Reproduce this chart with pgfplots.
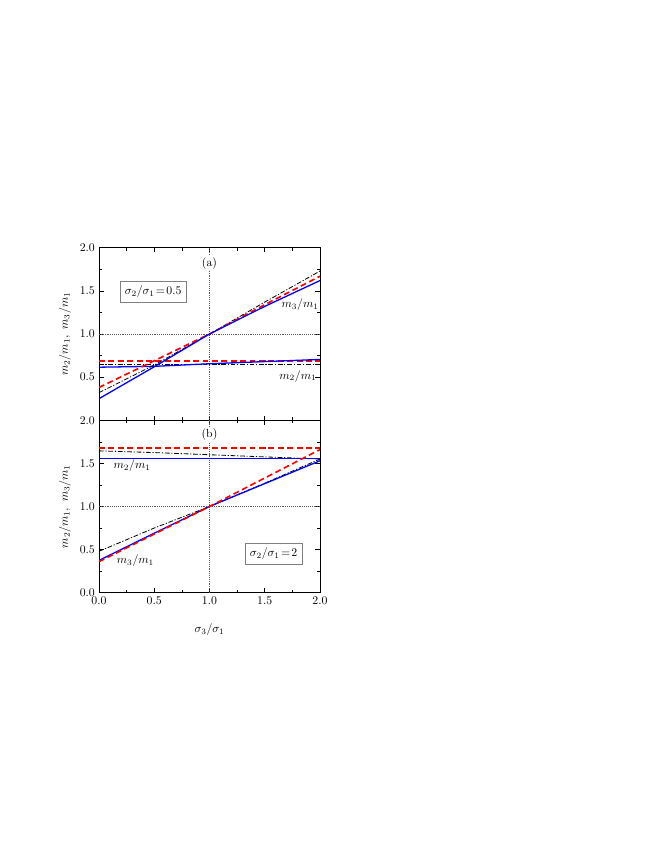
\documentclass[border=0pt]{standalone}
\usepackage{pgfplots}
\pgfplotsset{compat=1.18}
\begin{document}
\begin{tikzpicture}
\pgfplotsset{
  panel/.style={
    scale only axis, width=187.85pt, height=146.6pt,
    xmin=0, xmax=2, ymin=0, ymax=2,
    xtick={0,0.5,1,1.5,2}, minor x tick num=1, minor y tick num=1,
    tick align=inside, major tick length=4pt, minor tick length=2.5pt,
    tick style={black, line width=0.5pt},
    axis line style={line width=0.7pt},
    xticklabel style={/pgf/number format/.cd,fixed,fixed zerofill,precision=1},
    yticklabel style={/pgf/number format/.cd,fixed,fixed zerofill,precision=1},
    ylabel={$m_2/m_1,\ m_3/m_1$},
    ylabel style={at={(axis description cs:-0.154,0.5)}, anchor=center},
    clip=true,
  },
  bl/.style={blue, line width=1.1pt},
  rd/.style={red, line width=1.4pt, dash pattern=on 5pt off 3pt},
  bk/.style={black, line width=0.7pt, dash pattern=on 4pt off 1.5pt on 1pt off 1.5pt},
  refl/.style={gray!70!black, line width=0.4pt, dash pattern=on 0.6pt off 1pt},
}
% bottom panel (b)
\begin{axis}[panel, at={(0pt,0pt)},
  ytick={0,0.5,1,1.5,2},
  xlabel={$\sigma_3/\sigma_1$},
  xlabel style={at={(axis description cs:0.5,-0.216)}, anchor=center},
]
\addplot[refl] coordinates {(1,0) (1,2)};
\addplot[refl] coordinates {(0,1) (2,1)};
% upper group (m2/m1)
\addplot[rd] coordinates {(0,1.68) (0.5,1.68) (1,1.68) (1.5,1.68) (2,1.68)};
\addplot[bk] coordinates {(0,1.645) (0.5,1.625) (1,1.60) (1.5,1.575) (2,1.55)};
\addplot[bl] coordinates {(0,1.56) (0.5,1.56) (1,1.56) (1.5,1.56) (2,1.56)};
% lower group (m3/m1)
\addplot[bk] coordinates {(0,0.48) (0.5,0.75) (1,1) (1.5,1.27) (2,1.55)};
\addplot[bl] coordinates {(0,0.375) (0.5,0.69) (1,1) (1.5,1.265) (2,1.53)};
\addplot[rd] coordinates {(0,0.36) (0.5,0.68) (1,1) (1.5,1.33) (2,1.66)};
\node[fill=white, inner sep=1pt] at (axis cs:1,1.83) {(b)};
\node at (axis cs:0.30,1.47) {$m_2/m_1$};
\node at (axis cs:0.33,0.375) {$m_3/m_1$};
\node[draw=gray, fill=white, line width=0.6pt, inner sep=4pt] at (axis cs:1.58,0.45) {$\sigma_2/\sigma_1\!=\!2$};
\end{axis}
% top panel (a)
\begin{axis}[panel, at={(0pt,146.6pt)},
  ytick={0.5,1,1.5,2}, xticklabels={},
]
\addplot[refl] coordinates {(1,0) (1,2)};
\addplot[refl] coordinates {(0,1) (2,1)};
% m2/m1
\addplot[rd] coordinates {(0,0.685) (0.5,0.685) (1,0.685) (1.5,0.685) (2,0.685)};
\addplot[bk] coordinates {(0,0.645) (0.5,0.645) (1,0.645) (1.5,0.645) (2,0.645)};
\addplot[bl] coordinates {(0,0.615) (0.5,0.625) (1,0.655) (1.5,0.68) (2,0.705)};
% m3/m1
\addplot[bk] coordinates {(0,0.32) (0.5,0.64) (1,1) (1.5,1.37) (2,1.73)};
\addplot[rd] coordinates {(0,0.38) (0.5,0.69) (1,1) (1.5,1.34) (2,1.67)};
\addplot[bl] coordinates {(0,0.25) (0.5,0.62) (1,1) (1.5,1.32) (2,1.62)};
\node[fill=white, inner sep=1pt] at (axis cs:1,1.82) {(a)};
\node at (axis cs:1.82,1.34) {$m_3/m_1$};
\node at (axis cs:1.80,0.51) {$m_2/m_1$};
\node[draw=gray, fill=white, line width=0.6pt, inner sep=4pt] at (axis cs:0.49,1.49) {$\sigma_2/\sigma_1\!=\!0.5$};
\end{axis}
\path[use as bounding box] (-84.15pt,-227.2pt) rectangle (480.25pt,503.8pt);
\end{tikzpicture}
\end{document}
